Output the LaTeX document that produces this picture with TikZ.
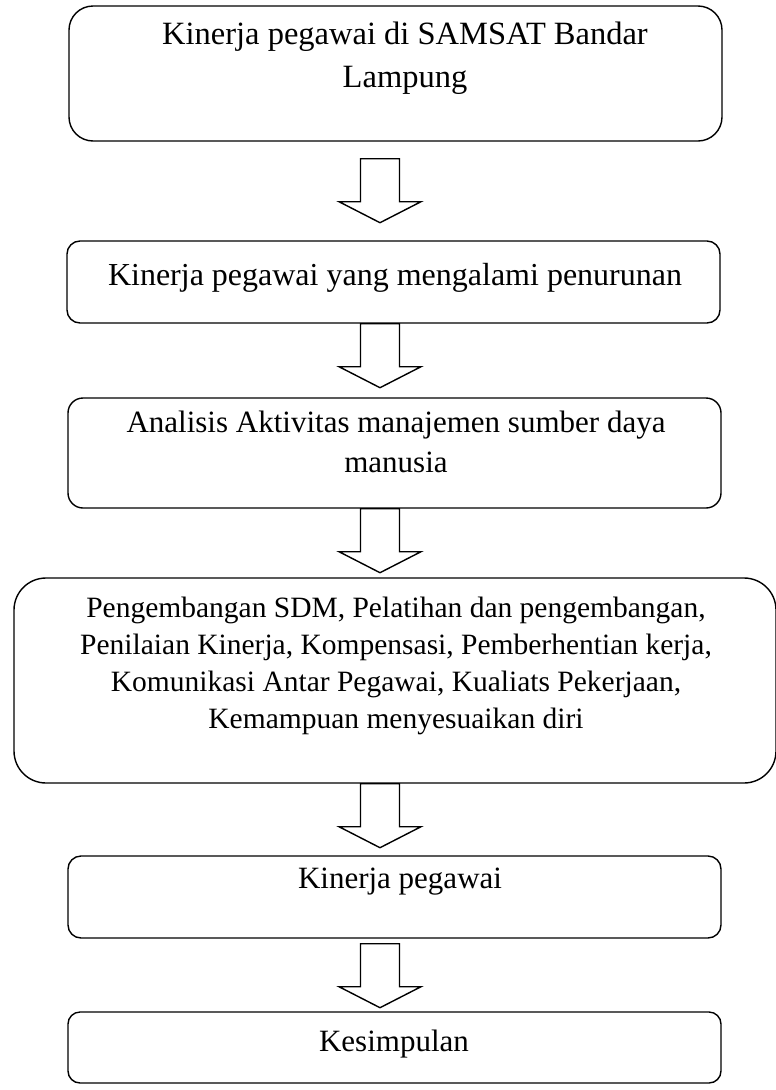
\documentclass[tikz,border=0pt]{standalone}
\usepackage{fontspec}
\setmainfont{Liberation Serif}
\usetikzlibrary{positioning}

\begin{document}
\begin{tikzpicture}[x=1pt,y=-1pt,line width=1.4pt,
    box/.style={draw,rounded corners=#1,minimum width=653pt,inner sep=0pt},
    txt/.style={align=center,inner sep=0pt}]
  \useasboundingbox (0,0) rectangle (776,1090);

  % kotak
  \node[box=24pt,minimum height=135pt] (b1) at (395.5,73.5) {};
  \node[box=13pt,minimum height=82pt] (b2) at (393.5,282) {};
  \node[box=15pt,minimum height=110pt] (b3) at (394.5,453) {};
  \node[box=32pt,minimum height=205pt,minimum width=762pt] (b4) at (395,680.5) {};
  \node[box=13pt,minimum height=82pt] (b5) at (394.5,897) {};
  \node[box=12pt,minimum height=71pt] (b6) at (394.5,1047.5) {};

  % teks
  \node[txt,font=\fontsize{32.5}{43}\selectfont] (t1) at (405,58)
    {Kinerja pegawai di SAMSAT Bandar\\Lampung};
  \node[txt,font=\fontsize{32}{37}\selectfont] (t2) at (395,278)
    {Kinerja pegawai yang mengalami penurunan};
  \node[txt,font=\fontsize{31}{40}\selectfont] (t3) at (396,442)
    {Analisis Aktivitas manajemen sumber daya\\manusia};
  \node[txt,font=\fontsize{29.5}{37}\selectfont] (t4) at (396,666)
    {Pengembangan SDM, Pelatihan dan pengembangan,\\
     Penilaian Kinerja, Kompensasi, Pemberhentian kerja,\\
     Komunikasi Antar Pegawai, Kualiats Pekerjaan,\\
     Kemampuan menyesuaikan diri};
  \node[txt,font=\fontsize{31}{37}\selectfont] (t5) at (400,882) {Kinerja pegawai};
  \node[txt,font=\fontsize{31}{37}\selectfont] (t6) at (394,1044) {Kesimpulan};

  % panah
  \coordinate (a1) at ([yshift=-17pt]b1.south -| 380,0);
  \coordinate (a2) at (b2.south -| 380,0);
  \coordinate (a3) at (b3.south -| 380,0);
  \coordinate (a4) at (b4.south -| 380,0);
  \coordinate (a5) at ([yshift=-5pt]b5.south -| 380,0);
  \foreach \a in {a1,a2,a3,a4,a5}
    \draw[fill=white] (\a) +(-19.5,0) -- +(-19.5,43) -- +(-41,43) -- +(0,64)
      -- +(41,43) -- +(19.5,43) -- +(19.5,0) -- cycle;
\end{tikzpicture}
\end{document}
